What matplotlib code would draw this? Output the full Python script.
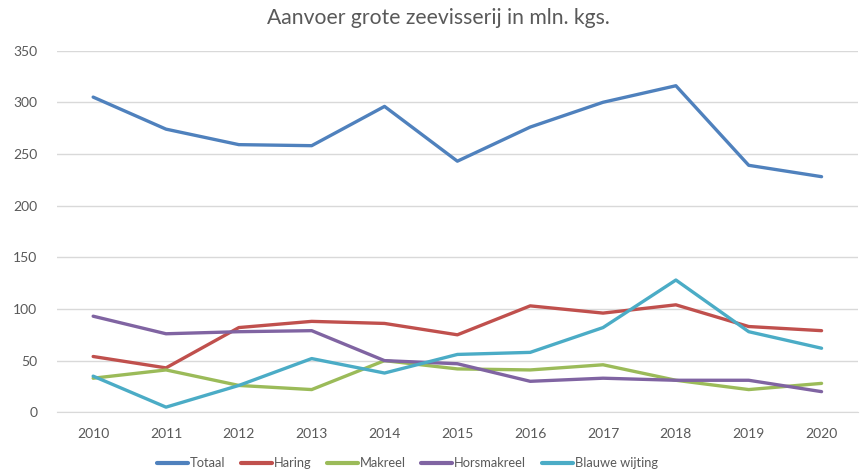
import matplotlib
matplotlib.use("Agg")
import matplotlib.pyplot as plt

years = [2010, 2011, 2012, 2013, 2014, 2015, 2016, 2017, 2018, 2019, 2020]
totaal = [305, 274, 259, 258, 296, 243, 276, 300, 316, 239, 228]
haring = [54, 43, 82, 88, 86, 75, 103, 96, 104, 83, 79]
makreel = [33, 41, 26, 22, 50, 42, 41, 46, 31, 22, 28]
horsmakreel = [93, 76, 78, 79, 50, 47, 30, 33, 31, 31, 20]
blauwe_wijting = [35, 5, 26, 52, 38, 56, 58, 82, 128, 78, 62]

series = [
    ("Totaal", totaal, "#4F81BD"),
    ("Haring", haring, "#C0504D"),
    ("Makreel", makreel, "#9BBB59"),
    ("Horsmakreel", horsmakreel, "#8064A2"),
    ("Blauwe wijting", blauwe_wijting, "#4BACC6"),
]
yticks = [0, 50, 100, 150, 200, 250, 300, 350]

plt.rcParams['font.family'] = ['Lato', 'DejaVu Sans']
fig = plt.figure(figsize=(8.61, 4.76), dpi=100)
ax = fig.add_axes([0.0659, 0.1338, 0.9306, 0.7599])

for name, vals, col in series:
    ax.plot(years, vals, color=col, lw=2.4, label=name, solid_capstyle='round', solid_joinstyle='round')

ax.set_xlim(2009.5, 2020.5)
ax.set_ylim(0, 350)
ax.set_yticks(yticks)
ax.set_xticks(years)
ax.set_xticklabels([str(y) for y in years])
ax.grid(axis='y', color='#D9D9D9', lw=1)
ax.set_axisbelow(True)
for s in ['top', 'right', 'left']:
    ax.spines[s].set_visible(False)
ax.spines['bottom'].set_color('#D9D9D9')
ax.tick_params(axis='both', length=0, colors='#595959', labelsize=10)
ax.tick_params(axis='y', pad=14)
ax.tick_params(axis='x', pad=11)

fig.text(0.509, 0.962, "Aanvoer grote zeevisserij in mln. kgs.", ha='center', va='center',
         fontsize=15.2, color='#595959')

leg = fig.legend(loc='center', bbox_to_anchor=(0.473, 0.027), ncol=5, frameon=False,
                 fontsize=9.3, handlelength=2.4, handletextpad=0.15, columnspacing=1.2)
for t in leg.get_texts():
    t.set_color('#595959')
for l in leg.get_lines():
    l.set_linewidth(3)

fig.savefig("out.png", dpi=100)
